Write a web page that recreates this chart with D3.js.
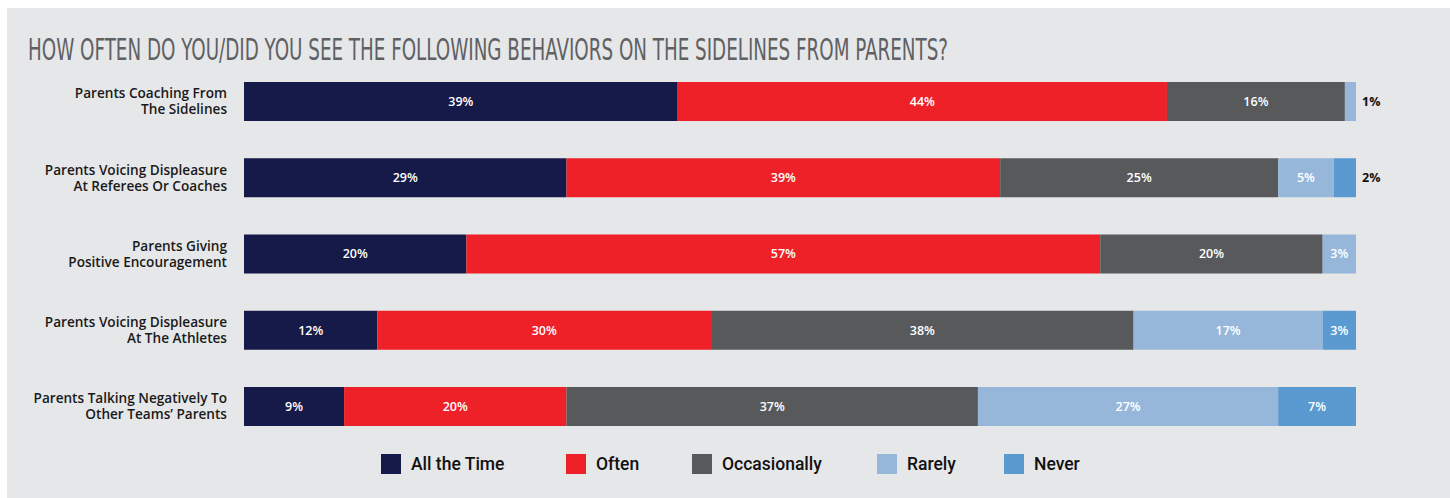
<!DOCTYPE html>
<html>
<head>
<meta charset="utf-8">
<script src="https://cdn.jsdelivr.net/npm/d3@7"></script>
<style>
  html, body { margin: 0; padding: 0; background: #ffffff; }
  svg { display: block; }
</style>
</head>
<body>
<svg id="chart" width="1450" height="498"></svg>
<script>
// Survey question and answers
const title = "HOW OFTEN DO YOU/DID YOU SEE THE FOLLOWING BEHAVIORS ON THE SIDELINES FROM PARENTS?";

const categories = [
  "Parents Coaching From|The Sidelines",
  "Parents Voicing Displeasure|At Referees Or Coaches",
  "Parents Giving|Positive Encouragement",
  "Parents Voicing Displeasure|At The Athletes",
  "Parents Talking Negatively To|Other Teams\u2019 Parents"
];

const seriesNames = ["All the Time", "Often", "Occasionally", "Rarely", "Never"];

// Percent of respondents per answer, one value per behavior
const allTheTime   = [39, 29, 20, 12, 9];
const often        = [44, 39, 57, 30, 20];
const occasionally = [16, 25, 20, 38, 37];
const rarely       = [1, 5, 3, 17, 27];
const never        = [0, 2, 0, 3, 7];

const seriesColors = ["#161a48", "#ee2129", "#58595b", "#97b7da", "#5b9ad0"];

// Assemble rows for d3.stack
const seriesValues = [allTheTime, often, occasionally, rarely, never];
const rows = categories.map((c, i) => {
  const r = { category: c };
  seriesNames.forEach((s, j) => { r[s] = seriesValues[j][i]; });
  return r;
});

const svg = d3.select("#chart");

// Panel background
svg.append("rect")
  .attr("x", 7).attr("y", 8)
  .attr("width", 1443).attr("height", 490)
  .attr("fill", "#e6e7e9");

// Title
svg.append("text")
  .attr("x", 28).attr("y", 60)
  .attr("font-family", "'DejaVu Sans Condensed', 'Liberation Sans Narrow', sans-serif")
  .attr("font-size", 31)
  .attr("fill", "#5f6163")
  .attr("textLength", 920)
  .attr("lengthAdjust", "spacingAndGlyphs")
  .text(title);

const x = d3.scaleLinear().domain([0, 100]).range([244, 1356]);
const y = d3.scaleBand().domain(categories).range([82, 426]).paddingInner(0.4885).paddingOuter(0);
const color = d3.scaleOrdinal().domain(seriesNames).range(seriesColors);

const stacked = d3.stack().keys(seriesNames)(rows);

const layers = svg.append("g").selectAll("g")
  .data(stacked)
  .join("g")
  .attr("fill", d => color(d.key));

layers.selectAll("rect")
  .data(d => d.filter(p => p[1] - p[0] > 0))
  .join("rect")
  .attr("x", d => x(d[0]))
  .attr("y", d => y(d.data.category))
  .attr("width", d => x(d[1]) - x(d[0]))
  .attr("height", y.bandwidth());

// Value labels: inside the segment, or just past the bar end for slim segments
const labelFont = "'Open Sans', 'Noto Sans', sans-serif";
stacked.forEach(layer => {
  layer.forEach(p => {
    const v = p[1] - p[0];
    if (v <= 0) return;
    const cy = y(p.data.category) + y.bandwidth() / 2;
    const outside = v < 3;
    svg.append("text")
      .attr("x", outside ? x(100) + 6 : (x(p[0]) + x(p[1])) / 2)
      .attr("y", cy)
      .attr("dy", "0.35em")
      .attr("text-anchor", outside ? "start" : "middle")
      .attr("font-family", labelFont)
      .attr("font-weight", outside ? 700 : 600)
      .attr("font-size", 12.5)
      .attr("fill", outside ? "#111111" : "#ffffff")
      .text(v + "%");
  });
});

// Category labels (two lines, right-aligned)
const yAxis = svg.append("g");
categories.forEach(c => {
  const lines = c.split("|");
  const cy = y(c) + y.bandwidth() / 2;
  const t = yAxis.append("text")
    .attr("x", 227)
    .attr("text-anchor", "end")
    .attr("font-family", labelFont)
    .attr("font-weight", 600)
    .attr("font-size", 13.6)
    .attr("fill", "#1a1a1a");
  lines.forEach((ln, i) => {
    t.append("tspan")
      .attr("x", 227)
      .attr("y", cy + (i - (lines.length - 1) / 2) * 16)
      .attr("dy", "0.35em")
      .text(ln);
  });
});

// Legend
const legendX = [381, 566, 692, 877, 1004];
const legend = svg.append("g");
seriesNames.forEach((s, i) => {
  legend.append("rect")
    .attr("x", legendX[i]).attr("y", 454)
    .attr("width", 20).attr("height", 20)
    .attr("fill", color(s));
  legend.append("text")
    .attr("x", legendX[i] + 30).attr("y", 464)
    .attr("dy", "0.35em")
    .attr("font-family", "Roboto, sans-serif")
    .attr("font-weight", 500)
    .attr("font-size", 17.5)
    .attr("fill", "#111111")
    .text(s);
});
</script>
</body>
</html>
